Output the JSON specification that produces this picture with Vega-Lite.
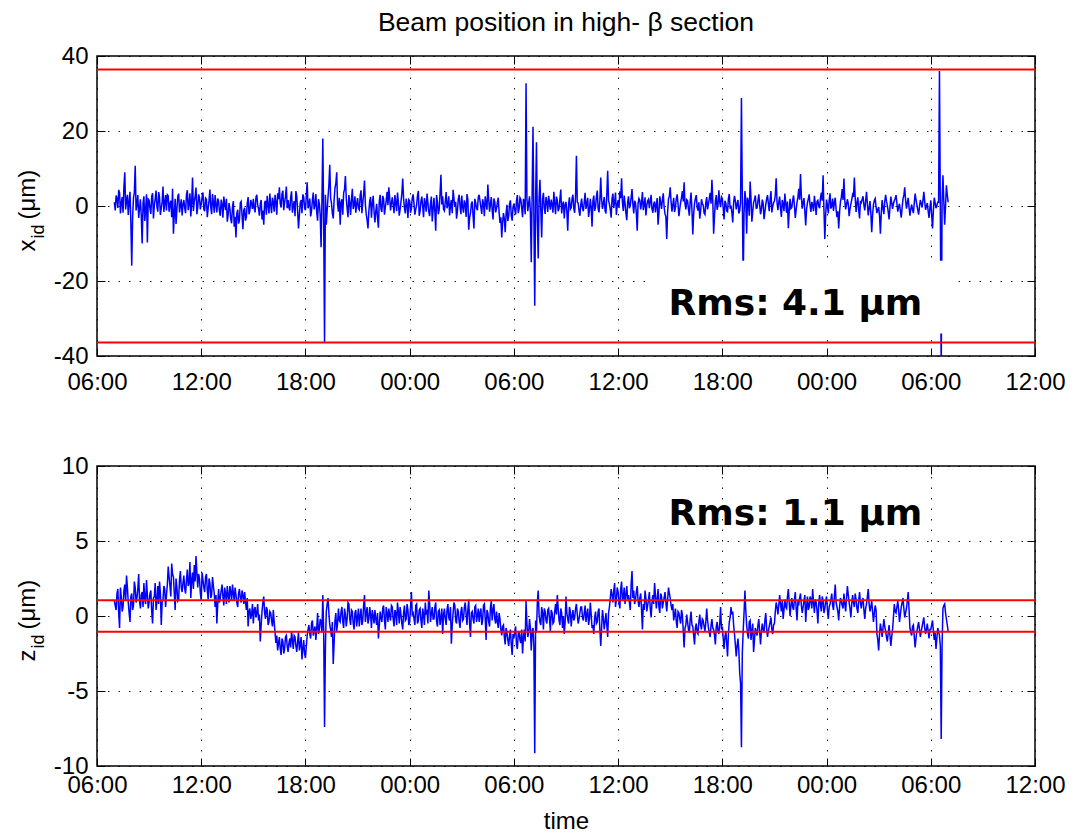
{
  "$schema": "https://vega.github.io/schema/vega-lite/v6.json",
  "background": "white",
  "padding": {"left": 14, "top": 8, "right": 5, "bottom": 0},
  "config": {
    "font": "Liberation Sans",
    "view": {"stroke": "black", "strokeWidth": 1.5},
    "axis": {
      "labelFont": "Liberation Sans", "labelFontSize": 24, "labelColor": "black",
      "titleFont": "Liberation Sans", "titleFontSize": 24, "titleFontWeight": "normal", "titleColor": "black",
      "domain": false, "tickColor": "black", "tickSize": -8, "tickWidth": 1,
      "gridColor": "black", "gridDash": [1.5, 9], "gridOpacity": 0.9, "gridWidth": 1,
      "labelOverlap": false, "labelFlush": false
    }
  },
  "datasets": {
    "beam": [
      {"h":1.0,"xid":1.0,"zid":1.0},{"h":1.1,"xid":2.8,"zid":0.4},{"h":1.2,"xid":-0.5,"zid":1.8},{"h":1.3,"xid":3.5,"zid":-0.8},{"h":1.4,"xid":0.8,"zid":1.2},{"h":1.5,"xid":-1.8,"zid":0.6},{"h":1.6,"xid":9.0,"zid":2.1},{"h":1.7,"xid":1.5,"zid":2.7},{"h":1.8,"xid":-2.4,"zid":0.9},{"h":1.9,"xid":3.8,"zid":-0.4},
      {"h":2.0,"xid":-15.9,"zid":1.5},{"h":2.1,"xid":2.1,"zid":0.7},{"h":2.2,"xid":10.7,"zid":1.9},{"h":2.3,"xid":0.4,"zid":1.2},{"h":2.4,"xid":-3.2,"zid":2.8},{"h":2.5,"xid":1.8,"zid":0.5},{"h":2.6,"xid":-10.0,"zid":1.6},{"h":2.7,"xid":2.6,"zid":2.2},{"h":2.8,"xid":-0.9,"zid":0.8},{"h":2.9,"xid":-9.7,"zid":1.4},
      {"h":3.0,"xid":1.5,"zid":0.9},{"h":3.1,"xid":-2.1,"zid":1.7},{"h":3.2,"xid":3.4,"zid":-0.5},{"h":3.3,"xid":0.2,"zid":1.3},{"h":3.4,"xid":4.1,"zid":0.4},{"h":3.5,"xid":-1.5,"zid":2.0},{"h":3.6,"xid":2.3,"zid":2.3},{"h":3.7,"xid":-0.6,"zid":-0.6},{"h":3.8,"xid":5.2,"zid":1.1},{"h":3.9,"xid":0.9,"zid":1.8},
      {"h":4.0,"xid":-1.2,"zid":1.4},{"h":4.1,"xid":2.7,"zid":3.3},{"h":4.2,"xid":0.5,"zid":2.0},{"h":4.3,"xid":-3.0,"zid":3.5},{"h":4.4,"xid":-7.4,"zid":2.6},{"h":4.5,"xid":1.9,"zid":0.4},{"h":4.6,"xid":-0.8,"zid":1.9},{"h":4.7,"xid":3.3,"zid":1.1},{"h":4.8,"xid":0.1,"zid":3.0},{"h":4.9,"xid":-2.5,"zid":1.6},
      {"h":5.0,"xid":1.6,"zid":2.7},{"h":5.1,"xid":-1.9,"zid":1.5},{"h":5.2,"xid":4.2,"zid":3.1},{"h":5.3,"xid":0.7,"zid":2.2},{"h":5.4,"xid":-2.8,"zid":1.2},{"h":5.5,"xid":7.6,"zid":2.9},{"h":5.6,"xid":1.2,"zid":3.4},{"h":5.7,"xid":4.9,"zid":4.0},{"h":5.8,"xid":-0.3,"zid":1.9},{"h":5.9,"xid":2.2,"zid":2.5},
      {"h":6.0,"xid":0.5,"zid":1.0},{"h":6.1,"xid":3.6,"zid":2.4},{"h":6.2,"xid":-1.4,"zid":1.6},{"h":6.3,"xid":1.8,"zid":2.8},{"h":6.4,"xid":-0.6,"zid":1.1},{"h":6.5,"xid":4.4,"zid":2.2},{"h":6.6,"xid":-2.2,"zid":1.4},{"h":6.7,"xid":0.9,"zid":2.0},{"h":6.8,"xid":2.9,"zid":0.6},{"h":6.9,"xid":-1.7,"zid":-0.5},
      {"h":7.0,"xid":1.3,"zid":1.8},{"h":7.1,"xid":-2.6,"zid":1.2},{"h":7.2,"xid":0.4,"zid":2.1},{"h":7.3,"xid":2.5,"zid":0.7},{"h":7.4,"xid":-1.1,"zid":1.5},{"h":7.5,"xid":-4.2,"zid":2.0},{"h":7.6,"xid":0.8,"zid":0.9},{"h":7.7,"xid":-3.5,"zid":1.6},{"h":7.8,"xid":-0.2,"zid":2.1},{"h":7.9,"xid":-5.5,"zid":1.0},
      {"h":8.0,"xid":-8.4,"zid":1.4},{"h":8.1,"xid":-1.0,"zid":0.6},{"h":8.2,"xid":-3.8,"zid":1.8},{"h":8.3,"xid":1.2,"zid":0.9},{"h":8.4,"xid":-6.2,"zid":1.4},{"h":8.5,"xid":-0.5,"zid":1.6},{"h":8.6,"xid":-2.9,"zid":0.4},{"h":8.7,"xid":2.4,"zid":-0.7},{"h":8.8,"xid":-1.3,"zid":0.5},{"h":8.9,"xid":0.6,"zid":0.1},
      {"h":9.0,"xid":1.9,"zid":-0.5},{"h":9.1,"xid":-1.7,"zid":0.6},{"h":9.2,"xid":3.0,"zid":0.2},{"h":9.3,"xid":-0.8,"zid":-0.3},{"h":9.4,"xid":0.5,"zid":-1.7},{"h":9.5,"xid":-3.6,"zid":0.3},{"h":9.6,"xid":-5.0,"zid":1.3},{"h":9.7,"xid":1.4,"zid":-0.2},{"h":9.8,"xid":2.7,"zid":0.4},{"h":9.9,"xid":-2.0,"zid":-0.4},
      {"h":10.0,"xid":0.3,"zid":0.2},{"h":10.1,"xid":2.2,"zid":-0.7},{"h":10.2,"xid":-1.5,"zid":-0.4},{"h":10.3,"xid":1.0,"zid":-1.8},{"h":10.4,"xid":3.4,"zid":-2.3},{"h":10.5,"xid":5.0,"zid":-1.4},{"h":10.6,"xid":-0.4,"zid":-2.6},{"h":10.7,"xid":4.1,"zid":-1.7},{"h":10.8,"xid":0.9,"zid":-2.2},{"h":10.9,"xid":5.2,"zid":-1.3},
      {"h":11.0,"xid":1.6,"zid":-2.4},{"h":11.1,"xid":-1.2,"zid":-1.5},{"h":11.2,"xid":3.9,"zid":-1.0},{"h":11.3,"xid":0.2,"zid":-2.2},{"h":11.4,"xid":-2.7,"zid":-1.4},{"h":11.5,"xid":2.6,"zid":-2.4},{"h":11.6,"xid":-6.0,"zid":-1.1},{"h":11.7,"xid":0.8,"zid":-1.9},{"h":11.8,"xid":-1.9,"zid":-2.9},{"h":11.9,"xid":2.4,"zid":-1.6},
      {"h":12.0,"xid":-1.1,"zid":-2.8},{"h":12.1,"xid":6.3,"zid":-1.3},{"h":12.2,"xid":0.4,"zid":-0.6},{"h":12.3,"xid":-2.8,"zid":-1.5},{"h":12.4,"xid":1.5,"zid":-0.3},{"h":12.5,"xid":-0.9,"zid":-1.0},{"h":12.6,"xid":3.2,"zid":-1.6},{"h":12.7,"xid":-3.9,"zid":0.2},{"h":12.8,"xid":0.6,"zid":-0.9},{"h":12.9,"xid":-11.0,"zid":-0.4},
      {"h":13.0,"xid":18.0,"zid":1.4},{"h":13.1,"xid":-36.5,"zid":-7.4},{"h":13.2,"xid":-5.0,"zid":0.3},{"h":13.3,"xid":2.4,"zid":1.2},{"h":13.4,"xid":11.0,"zid":-0.6},{"h":13.5,"xid":0.7,"zid":-1.4},{"h":13.6,"xid":-3.3,"zid":-3.2},{"h":13.7,"xid":4.8,"zid":-0.3},{"h":13.8,"xid":9.0,"zid":-1.0},{"h":13.9,"xid":-1.5,"zid":0.5},
      {"h":14.0,"xid":-5.0,"zid":-0.4},{"h":14.1,"xid":1.8,"zid":0.6},{"h":14.2,"xid":3.5,"zid":-0.8},{"h":14.3,"xid":8.0,"zid":0.1},{"h":14.4,"xid":-0.6,"zid":-0.2},{"h":14.5,"xid":2.9,"zid":0.8},{"h":14.6,"xid":-2.4,"zid":-0.6},{"h":14.7,"xid":4.6,"zid":0.3},{"h":14.8,"xid":0.3,"zid":-0.9},{"h":14.9,"xid":-1.8,"zid":0.4},
      {"h":15.0,"xid":2.1,"zid":-0.1},{"h":15.1,"xid":-1.0,"zid":-0.7},{"h":15.2,"xid":4.2,"zid":0.5},{"h":15.3,"xid":0.8,"zid":-0.3},{"h":15.4,"xid":6.8,"zid":1.4},{"h":15.5,"xid":-2.2,"zid":0.2},{"h":15.6,"xid":-6.0,"zid":-0.5},{"h":15.7,"xid":1.3,"zid":0.6},{"h":15.8,"xid":-3.1,"zid":-0.8},{"h":15.9,"xid":2.7,"zid":0.0},
      {"h":16.0,"xid":-4.4,"zid":0.4},{"h":16.1,"xid":0.6,"zid":-0.6},{"h":16.2,"xid":-5.8,"zid":-1.5},{"h":16.3,"xid":3.0,"zid":0.3},{"h":16.4,"xid":-1.6,"zid":-0.4},{"h":16.5,"xid":1.9,"zid":0.7},{"h":16.6,"xid":-0.3,"zid":-0.9},{"h":16.7,"xid":3.8,"zid":0.2},{"h":16.8,"xid":5.0,"zid":0.5},{"h":16.9,"xid":-1.2,"zid":-0.3},
      {"h":17.0,"xid":2.3,"zid":0.6},{"h":17.1,"xid":-1.9,"zid":-0.7},{"h":17.2,"xid":0.9,"zid":0.2},{"h":17.3,"xid":3.6,"zid":0.9},{"h":17.4,"xid":-2.6,"zid":-0.5},{"h":17.5,"xid":1.1,"zid":0.1},{"h":17.6,"xid":7.3,"zid":-0.9},{"h":17.7,"xid":-0.5,"zid":0.7},{"h":17.8,"xid":2.0,"zid":-0.2},{"h":17.9,"xid":-3.2,"zid":0.4},
      {"h":18.0,"xid":1.4,"zid":-0.4},{"h":18.1,"xid":-0.7,"zid":1.6},{"h":18.2,"xid":3.1,"zid":0.2},{"h":18.3,"xid":-2.3,"zid":-0.6},{"h":18.4,"xid":0.2,"zid":0.8},{"h":18.5,"xid":4.0,"zid":-0.3},{"h":18.6,"xid":-1.4,"zid":0.5},{"h":18.7,"xid":2.5,"zid":-0.8},{"h":18.8,"xid":-3.0,"zid":0.1},{"h":18.9,"xid":0.8,"zid":0.9},
      {"h":19.0,"xid":3.3,"zid":0.3},{"h":19.1,"xid":-1.6,"zid":1.7},{"h":19.2,"xid":0.7,"zid":-0.4},{"h":19.3,"xid":-4.1,"zid":0.6},{"h":19.4,"xid":2.2,"zid":-0.2},{"h":19.5,"xid":-6.6,"zid":0.9},{"h":19.6,"xid":1.0,"zid":-0.7},{"h":19.7,"xid":-0.9,"zid":0.4},{"h":19.8,"xid":8.3,"zid":-0.1},{"h":19.9,"xid":2.6,"zid":-1.2},
      {"h":20.0,"xid":-1.3,"zid":0.5},{"h":20.1,"xid":3.7,"zid":-0.6},{"h":20.2,"xid":0.4,"zid":0.8},{"h":20.3,"xid":-2.5,"zid":-0.3},{"h":20.4,"xid":1.6,"zid":-1.85},{"h":20.5,"xid":4.3,"zid":0.2},{"h":20.6,"xid":-0.2,"zid":0.7},{"h":20.7,"xid":-3.4,"zid":-0.5},{"h":20.8,"xid":1.9,"zid":0.3},{"h":20.9,"xid":0.0,"zid":-0.8},
      {"h":21.0,"xid":2.8,"zid":0.6},{"h":21.1,"xid":-1.8,"zid":-0.2},{"h":21.2,"xid":0.6,"zid":0.9},{"h":21.3,"xid":3.2,"zid":-0.6},{"h":21.4,"xid":-6.3,"zid":1.1},{"h":21.5,"xid":-2.0,"zid":-1.4},{"h":21.6,"xid":1.2,"zid":0.3},{"h":21.7,"xid":-6.0,"zid":-0.5},{"h":21.8,"xid":0.9,"zid":0.7},{"h":21.9,"xid":-1.1,"zid":0.0},
      {"h":22.0,"xid":3.0,"zid":-0.4},{"h":22.1,"xid":-0.4,"zid":0.5},{"h":22.2,"xid":1.8,"zid":-0.3},{"h":22.3,"xid":-2.7,"zid":0.8},{"h":22.4,"xid":0.5,"zid":-1.6},{"h":22.5,"xid":5.7,"zid":0.2},{"h":22.6,"xid":-1.5,"zid":-0.7},{"h":22.7,"xid":2.4,"zid":1.0},{"h":22.8,"xid":-3.6,"zid":0.4},{"h":22.9,"xid":1.1,"zid":-0.2},
      {"h":23.0,"xid":-0.6,"zid":0.3},{"h":23.1,"xid":2.2,"zid":-0.8},{"h":23.2,"xid":-4.5,"zid":-0.2},{"h":23.3,"xid":-8.4,"zid":-1.3},{"h":23.4,"xid":-1.9,"zid":-0.6},{"h":23.5,"xid":-7.0,"zid":-1.9},{"h":23.6,"xid":0.3,"zid":-1.1},{"h":23.7,"xid":-2.8,"zid":-2.0},{"h":23.8,"xid":1.5,"zid":-0.9},{"h":23.9,"xid":-3.9,"zid":-2.6},
      {"h":24.0,"xid":0.6,"zid":-1.5},{"h":24.1,"xid":-2.3,"zid":-0.7},{"h":24.2,"xid":2.9,"zid":-2.2},{"h":24.3,"xid":-0.8,"zid":-1.0},{"h":24.4,"xid":1.7,"zid":-1.8},{"h":24.5,"xid":-3.0,"zid":-2.5},{"h":24.6,"xid":0.9,"zid":-0.9},{"h":24.7,"xid":32.7,"zid":1.0},{"h":24.8,"xid":-1.4,"zid":-1.4},{"h":24.9,"xid":2.6,"zid":-0.2},
      {"h":25.0,"xid":-15.0,"zid":-2.3},{"h":25.1,"xid":21.1,"zid":-0.8},{"h":25.2,"xid":-26.6,"zid":-9.15},{"h":25.3,"xid":17.0,"zid":-1.1},{"h":25.4,"xid":-14.0,"zid":1.7},{"h":25.5,"xid":7.0,"zid":-0.4},{"h":25.6,"xid":-8.4,"zid":0.6},{"h":25.7,"xid":3.5,"zid":-0.9},{"h":25.8,"xid":-2.1,"zid":0.3},{"h":25.9,"xid":1.2,"zid":-0.5},
      {"h":26.0,"xid":2.7,"zid":0.5},{"h":26.1,"xid":-1.0,"zid":-1.0},{"h":26.2,"xid":0.4,"zid":0.2},{"h":26.3,"xid":3.8,"zid":-0.4},{"h":26.4,"xid":-2.2,"zid":0.8},{"h":26.5,"xid":1.5,"zid":1.4},{"h":26.6,"xid":-0.7,"zid":-0.3},{"h":26.7,"xid":4.4,"zid":0.5},{"h":26.8,"xid":0.2,"zid":-0.8},{"h":26.9,"xid":-3.3,"zid":-1.2},
      {"h":27.0,"xid":1.1,"zid":1.3},{"h":27.1,"xid":-6.6,"zid":-0.2},{"h":27.2,"xid":2.3,"zid":0.6},{"h":27.3,"xid":-0.5,"zid":-0.7},{"h":27.4,"xid":3.0,"zid":0.4},{"h":27.5,"xid":-1.8,"zid":-0.1},{"h":27.6,"xid":13.4,"zid":0.8},{"h":27.7,"xid":0.8,"zid":-0.5},{"h":27.8,"xid":-2.6,"zid":0.2},{"h":27.9,"xid":2.0,"zid":0.6},
      {"h":28.0,"xid":-1.4,"zid":-0.3},{"h":28.1,"xid":3.5,"zid":0.7},{"h":28.2,"xid":0.6,"zid":0.1},{"h":28.3,"xid":-2.9,"zid":-0.6},{"h":28.4,"xid":1.9,"zid":0.9},{"h":28.5,"xid":-5.5,"zid":-0.8},{"h":28.6,"xid":2.8,"zid":-1.2},{"h":28.7,"xid":-0.3,"zid":0.3},{"h":28.8,"xid":4.1,"zid":-0.4},{"h":28.9,"xid":-1.7,"zid":0.5},
      {"h":29.0,"xid":7.6,"zid":-2.0},{"h":29.1,"xid":-0.8,"zid":0.4},{"h":29.2,"xid":2.4,"zid":-0.9},{"h":29.3,"xid":-2.0,"zid":0.2},{"h":29.4,"xid":9.4,"zid":-1.4},{"h":29.5,"xid":0.5,"zid":0.6},{"h":29.6,"xid":-3.1,"zid":1.8},{"h":29.7,"xid":3.3,"zid":0.9},{"h":29.8,"xid":1.0,"zid":2.2},{"h":29.9,"xid":-2.4,"zid":1.1},
      {"h":30.0,"xid":1.6,"zid":1.6},{"h":30.1,"xid":3.9,"zid":0.5},{"h":30.2,"xid":7.4,"zid":2.3},{"h":30.3,"xid":-1.3,"zid":1.2},{"h":30.4,"xid":0.7,"zid":0.8},{"h":30.5,"xid":-3.8,"zid":2.0},{"h":30.6,"xid":2.6,"zid":1.4},{"h":30.7,"xid":0.1,"zid":0.4},{"h":30.8,"xid":4.5,"zid":3.0},{"h":30.9,"xid":-2.0,"zid":1.7},
      {"h":31.0,"xid":0.9,"zid":1.1},{"h":31.1,"xid":-6.6,"zid":2.0},{"h":31.2,"xid":2.0,"zid":0.6},{"h":31.3,"xid":-0.9,"zid":1.5},{"h":31.4,"xid":3.7,"zid":-0.9},{"h":31.5,"xid":0.3,"zid":0.4},{"h":31.6,"xid":-2.5,"zid":1.2},{"h":31.7,"xid":1.4,"zid":0.7},{"h":31.8,"xid":-0.6,"zid":1.6},{"h":31.9,"xid":3.0,"zid":-0.1},
      {"h":32.0,"xid":-1.8,"zid":1.4},{"h":32.1,"xid":1.2,"zid":2.2},{"h":32.2,"xid":0.4,"zid":0.5},{"h":32.3,"xid":-5.0,"zid":1.8},{"h":32.4,"xid":2.6,"zid":0.2},{"h":32.5,"xid":-0.8,"zid":1.3},{"h":32.6,"xid":3.4,"zid":0.9},{"h":32.7,"xid":-2.1,"zid":1.6},{"h":32.8,"xid":-8.8,"zid":0.3},{"h":32.9,"xid":1.9,"zid":1.9},
      {"h":33.0,"xid":5.0,"zid":1.2},{"h":33.1,"xid":-1.5,"zid":0.4},{"h":33.2,"xid":2.2,"zid":-0.3},{"h":33.3,"xid":-0.4,"zid":0.5},{"h":33.4,"xid":3.1,"zid":-0.8},{"h":33.5,"xid":-2.7,"zid":0.2},{"h":33.6,"xid":1.0,"zid":-0.5},{"h":33.7,"xid":4.0,"zid":0.1},{"h":33.8,"xid":6.3,"zid":-2.1},{"h":33.9,"xid":-0.9,"zid":-0.6},
      {"h":34.0,"xid":1.4,"zid":-0.4},{"h":34.1,"xid":-2.6,"zid":-1.1},{"h":34.2,"xid":3.6,"zid":0.3},{"h":34.3,"xid":-7.6,"zid":-0.7},{"h":34.4,"xid":0.7,"zid":-1.9},{"h":34.5,"xid":2.9,"zid":-0.5},{"h":34.6,"xid":-1.2,"zid":-1.2},{"h":34.7,"xid":-3.4,"zid":0.1},{"h":34.8,"xid":1.8,"zid":-0.9},{"h":34.9,"xid":0.2,"zid":-0.3},
      {"h":35.0,"xid":-2.3,"zid":-1.0},{"h":35.1,"xid":2.4,"zid":0.5},{"h":35.2,"xid":0.5,"zid":-0.8},{"h":35.3,"xid":3.5,"zid":-1.4},{"h":35.4,"xid":7.0,"zid":-0.2},{"h":35.5,"xid":-7.4,"zid":-0.9},{"h":35.6,"xid":1.3,"zid":-1.9},{"h":35.7,"xid":-1.0,"zid":-0.4},{"h":35.8,"xid":4.2,"zid":-1.2},{"h":35.9,"xid":-0.3,"zid":0.6},
      {"h":36.0,"xid":2.0,"zid":-0.7},{"h":36.1,"xid":-3.6,"zid":-2.2},{"h":36.2,"xid":0.8,"zid":-1.0},{"h":36.3,"xid":-1.5,"zid":-2.7},{"h":36.4,"xid":3.2,"zid":-0.4},{"h":36.5,"xid":0.1,"zid":0.6},{"h":36.6,"xid":-4.4,"zid":0.3},{"h":36.7,"xid":2.7,"zid":-1.2},{"h":36.8,"xid":-0.9,"zid":-2.7},{"h":36.9,"xid":1.6,"zid":-1.5},
      {"h":37.0,"xid":-1.3,"zid":-3.8},{"h":37.1,"xid":28.8,"zid":-8.75},{"h":37.2,"xid":-20.0,"zid":-1.0},{"h":37.3,"xid":4.0,"zid":1.7},{"h":37.4,"xid":-7.4,"zid":-0.6},{"h":37.5,"xid":1.2,"zid":-1.5},{"h":37.6,"xid":6.5,"zid":-0.3},{"h":37.7,"xid":-4.2,"zid":-1.0},{"h":37.8,"xid":0.9,"zid":-2.4},{"h":37.9,"xid":2.8,"zid":-0.8},
      {"h":38.0,"xid":-0.5,"zid":-1.3},{"h":38.1,"xid":3.1,"zid":-0.2},{"h":38.2,"xid":-2.2,"zid":-1.9},{"h":38.3,"xid":1.7,"zid":-0.5},{"h":38.4,"xid":-3.5,"zid":-1.1},{"h":38.5,"xid":0.4,"zid":0.2},{"h":38.6,"xid":2.9,"zid":-1.4},{"h":38.7,"xid":-1.4,"zid":-0.7},{"h":38.8,"xid":4.0,"zid":-0.1},{"h":38.9,"xid":-0.2,"zid":-1.2},
      {"h":39.0,"xid":1.3,"zid":-0.5},{"h":39.1,"xid":7.4,"zid":0.9},{"h":39.2,"xid":-1.1,"zid":0.1},{"h":39.3,"xid":2.5,"zid":1.4},{"h":39.4,"xid":-2.9,"zid":0.3},{"h":39.5,"xid":0.6,"zid":-0.2},{"h":39.6,"xid":3.3,"zid":1.1},{"h":39.7,"xid":-1.8,"zid":0.5},{"h":39.8,"xid":-5.9,"zid":1.8},{"h":39.9,"xid":1.9,"zid":0.0},
      {"h":40.0,"xid":-0.4,"zid":1.2},{"h":40.1,"xid":2.8,"zid":0.4},{"h":40.2,"xid":-3.2,"zid":1.6},{"h":40.3,"xid":1.0,"zid":-0.3},{"h":40.4,"xid":4.6,"zid":0.8},{"h":40.5,"xid":8.5,"zid":1.5},{"h":40.6,"xid":-0.7,"zid":0.2},{"h":40.7,"xid":2.1,"zid":1.0},{"h":40.8,"xid":-5.2,"zid":-0.4},{"h":40.9,"xid":0.8,"zid":1.3},
      {"h":41.0,"xid":3.1,"zid":0.6},{"h":41.1,"xid":-1.6,"zid":1.1},{"h":41.2,"xid":0.2,"zid":1.8},{"h":41.3,"xid":2.7,"zid":0.2},{"h":41.4,"xid":-2.4,"zid":0.9},{"h":41.5,"xid":1.5,"zid":-0.5},{"h":41.6,"xid":-0.6,"zid":1.4},{"h":41.7,"xid":3.6,"zid":0.3},{"h":41.8,"xid":8.2,"zid":1.0},{"h":41.9,"xid":-8.8,"zid":0.5},
      {"h":42.0,"xid":1.7,"zid":1.3},{"h":42.1,"xid":-2.0,"zid":-0.2},{"h":42.2,"xid":3.4,"zid":0.8},{"h":42.3,"xid":0.0,"zid":1.5},{"h":42.4,"xid":-1.3,"zid":0.4},{"h":42.5,"xid":2.2,"zid":2.1},{"h":42.6,"xid":-3.0,"zid":0.6},{"h":42.7,"xid":-6.0,"zid":-0.3},{"h":42.8,"xid":1.1,"zid":1.2},{"h":42.9,"xid":4.5,"zid":0.7},
      {"h":43.0,"xid":7.3,"zid":1.5},{"h":43.1,"xid":-0.9,"zid":0.3},{"h":43.2,"xid":1.8,"zid":2.0},{"h":43.3,"xid":-2.7,"zid":0.9},{"h":43.4,"xid":0.5,"zid":-0.1},{"h":43.5,"xid":3.0,"zid":1.4},{"h":43.6,"xid":7.6,"zid":0.6},{"h":43.7,"xid":-1.6,"zid":1.1},{"h":43.8,"xid":2.3,"zid":0.2},{"h":43.9,"xid":-3.3,"zid":1.6},
      {"h":44.0,"xid":0.9,"zid":0.5},{"h":44.1,"xid":2.6,"zid":1.2},{"h":44.2,"xid":-1.2,"zid":-0.2},{"h":44.3,"xid":3.8,"zid":0.8},{"h":44.4,"xid":-2.5,"zid":1.8},{"h":44.5,"xid":1.3,"zid":0.3},{"h":44.6,"xid":-7.0,"zid":1.0},{"h":44.7,"xid":0.4,"zid":-0.4},{"h":44.8,"xid":2.0,"zid":0.7},{"h":44.9,"xid":-1.9,"zid":-1.2},
      {"h":45.0,"xid":-0.3,"zid":-2.3},{"h":45.1,"xid":-7.4,"zid":-0.5},{"h":45.2,"xid":1.6,"zid":-1.4},{"h":45.3,"xid":-2.2,"zid":-0.2},{"h":45.4,"xid":3.0,"zid":-1.0},{"h":45.5,"xid":0.1,"zid":-1.7},{"h":45.6,"xid":-3.6,"zid":-0.6},{"h":45.7,"xid":2.5,"zid":-2.0},{"h":45.8,"xid":-0.8,"zid":-0.9},{"h":45.9,"xid":1.4,"zid":0.8},
      {"h":46.0,"xid":2.9,"zid":0.2},{"h":46.1,"xid":-1.5,"zid":1.0},{"h":46.2,"xid":0.6,"zid":-0.4},{"h":46.3,"xid":-3.1,"zid":0.6},{"h":46.4,"xid":1.9,"zid":1.2},{"h":46.5,"xid":5.0,"zid":-0.1},{"h":46.6,"xid":-0.7,"zid":0.5},{"h":46.7,"xid":2.2,"zid":1.6},{"h":46.8,"xid":-2.6,"zid":-0.8},{"h":46.9,"xid":0.4,"zid":-1.3},
      {"h":47.0,"xid":-1.9,"zid":-0.6},{"h":47.1,"xid":3.3,"zid":-2.1},{"h":47.2,"xid":0.3,"zid":-1.0},{"h":47.3,"xid":-2.3,"zid":-0.4},{"h":47.4,"xid":1.6,"zid":-1.4},{"h":47.5,"xid":-0.4,"zid":-0.7},{"h":47.6,"xid":3.8,"zid":-0.1},{"h":47.7,"xid":-1.0,"zid":-1.2},{"h":47.8,"xid":0.8,"zid":-0.5},{"h":47.9,"xid":-3.2,"zid":-1.5},
      {"h":48.0,"xid":1.5,"zid":-0.9},{"h":48.1,"xid":-6.0,"zid":-0.3},{"h":48.2,"xid":2.2,"zid":-1.6},{"h":48.3,"xid":-0.6,"zid":-2.2},{"h":48.4,"xid":1.0,"zid":-0.8},{"h":48.5,"xid":36.0,"zid":-1.3},{"h":48.6,"xid":-45.0,"zid":-8.2},{"h":48.7,"xid":8.2,"zid":0.5},{"h":48.8,"xid":-5.0,"zid":0.8},{"h":48.9,"xid":5.5,"zid":-0.2},
      {"h":49.0,"xid":1.0,"zid":-1.0},
      {"h":1.05,"xid":-1.2,"zid":0.7},{"h":1.15,"xid":1.9,"zid":1.5},{"h":1.25,"xid":4.3,"zid":0.2},{"h":1.35,"xid":-2.0,"zid":1.9},{"h":1.45,"xid":2.4,"zid":0.3},{"h":1.55,"xid":5.1,"zid":1.7},{"h":1.65,"xid":-0.9,"zid":1.0},{"h":1.75,"xid":3.0,"zid":1.9},{"h":1.85,"xid":1.2,"zid":0.2},{"h":1.95,"xid":-4.5,"zid":1.3},
      {"h":2.05,"xid":-3.1,"zid":0.4},{"h":2.15,"xid":3.6,"zid":2.3},{"h":2.25,"xid":-1.2,"zid":0.9},{"h":2.35,"xid":2.9,"zid":1.8},{"h":2.45,"xid":-0.5,"zid":1.0},{"h":2.55,"xid":-2.8,"zid":1.4},{"h":2.65,"xid":0.7,"zid":0.6},{"h":2.75,"xid":-4.0,"zid":1.1},{"h":2.85,"xid":3.1,"zid":2.4},{"h":2.95,"xid":1.8,"zid":0.5},
      {"h":3.05,"xid":-0.7,"zid":1.5},{"h":3.15,"xid":2.6,"zid":0.3},{"h":3.25,"xid":-3.3,"zid":1.2},{"h":3.35,"xid":1.9,"zid":2.2},{"h":3.45,"xid":-0.2,"zid":1.0},{"h":3.55,"xid":3.7,"zid":0.8},{"h":3.65,"xid":-2.4,"zid":1.5},{"h":3.75,"xid":1.1,"zid":0.9},{"h":3.85,"xid":-1.6,"zid":2.0},{"h":3.95,"xid":2.9,"zid":0.6},
      {"h":4.05,"xid":3.0,"zid":2.1},{"h":4.15,"xid":-1.5,"zid":2.6},{"h":4.25,"xid":1.4,"zid":1.3},{"h":4.35,"xid":4.6,"zid":2.8},{"h":4.45,"xid":-2.1,"zid":1.5},{"h":4.55,"xid":-4.8,"zid":2.5},{"h":4.65,"xid":2.5,"zid":1.0},{"h":4.75,"xid":-1.7,"zid":2.4},{"h":4.85,"xid":1.8,"zid":1.9},{"h":4.95,"xid":0.4,"zid":2.2},
      {"h":5.05,"xid":-0.6,"zid":1.8},{"h":5.15,"xid":2.9,"zid":2.4},{"h":5.25,"xid":-1.1,"zid":2.0},{"h":5.35,"xid":3.4,"zid":3.6},{"h":5.45,"xid":0.9,"zid":2.4},{"h":5.55,"xid":-1.3,"zid":1.8},{"h":5.65,"xid":2.6,"zid":2.3},{"h":5.75,"xid":-2.2,"zid":2.9},{"h":5.85,"xid":3.1,"zid":2.8},{"h":5.95,"xid":-0.9,"zid":1.5},
      {"h":6.05,"xid":2.4,"zid":2.9},{"h":6.15,"xid":-0.9,"zid":1.9},{"h":6.25,"xid":2.1,"zid":2.6},{"h":6.35,"xid":-3.0,"zid":1.7},{"h":6.45,"xid":1.5,"zid":2.5},{"h":6.55,"xid":-0.4,"zid":1.2},{"h":6.65,"xid":3.2,"zid":2.6},{"h":6.75,"xid":-1.8,"zid":1.5},{"h":6.85,"xid":0.3,"zid":1.4},{"h":6.95,"xid":2.0,"zid":0.8},
      {"h":7.05,"xid":-1.4,"zid":0.9},{"h":7.15,"xid":1.7,"zid":1.7},{"h":7.25,"xid":-3.1,"zid":1.3},{"h":7.35,"xid":0.6,"zid":1.9},{"h":7.45,"xid":1.9,"zid":0.8},{"h":7.55,"xid":-2.4,"zid":1.4},{"h":7.65,"xid":-0.7,"zid":2.0},{"h":7.75,"xid":-4.6,"zid":1.0},{"h":7.85,"xid":1.3,"zid":1.5},{"h":7.95,"xid":-2.9,"zid":1.9},
      {"h":8.05,"xid":-2.0,"zid":0.9},{"h":8.15,"xid":-4.7,"zid":1.5},{"h":8.25,"xid":0.8,"zid":1.2},{"h":8.35,"xid":-2.4,"zid":1.7},{"h":8.45,"xid":-1.1,"zid":0.8},{"h":8.55,"xid":-3.9,"zid":0.9},{"h":8.65,"xid":0.7,"zid":1.2},{"h":8.75,"xid":-2.2,"zid":0.3},{"h":8.85,"xid":1.6,"zid":-0.2},{"h":8.95,"xid":-0.8,"zid":0.8},
      {"h":9.05,"xid":-0.5,"zid":0.4},{"h":9.15,"xid":2.3,"zid":-0.1},{"h":9.25,"xid":0.3,"zid":0.8},{"h":9.35,"xid":-2.6,"zid":0.1},{"h":9.45,"xid":1.6,"zid":-0.6},{"h":9.55,"xid":-1.2,"zid":0.9},{"h":9.65,"xid":0.9,"zid":0.2},{"h":9.75,"xid":-2.3,"zid":0.6},{"h":9.85,"xid":0.2,"zid":-0.6},{"h":9.95,"xid":3.3,"zid":0.3},
      {"h":10.05,"xid":-1.9,"zid":-0.3},{"h":10.15,"xid":1.1,"zid":0.4},{"h":10.25,"xid":3.0,"zid":-1.1},{"h":10.35,"xid":-2.3,"zid":-1.3},{"h":10.45,"xid":1.8,"zid":-1.8},{"h":10.55,"xid":0.6,"zid":-2.2},{"h":10.65,"xid":3.2,"zid":-1.5},{"h":10.75,"xid":-1.1,"zid":-2.5},{"h":10.85,"xid":2.5,"zid":-1.4},{"h":10.95,"xid":-0.6,"zid":-2.0},
      {"h":11.05,"xid":-0.4,"zid":-1.8},{"h":11.15,"xid":2.4,"zid":-2.1},{"h":11.25,"xid":-1.8,"zid":-1.6},{"h":11.35,"xid":1.3,"zid":-1.3},{"h":11.45,"xid":4.0,"zid":-2.0},{"h":11.55,"xid":-1.3,"zid":-1.7},{"h":11.65,"xid":-2.5,"zid":-2.3},{"h":11.75,"xid":1.6,"zid":-1.4},{"h":11.85,"xid":3.1,"zid":-2.2},{"h":11.95,"xid":-0.5,"zid":-2.5},
      {"h":12.05,"xid":2.7,"zid":-2.0},{"h":12.15,"xid":-0.6,"zid":-0.9},{"h":12.25,"xid":2.0,"zid":-1.2},{"h":12.35,"xid":-1.3,"zid":-0.5},{"h":12.45,"xid":3.6,"zid":-1.3},{"h":12.55,"xid":0.2,"zid":-0.7},{"h":12.65,"xid":-1.7,"zid":-0.8},{"h":12.75,"xid":1.8,"zid":-1.2},{"h":12.85,"xid":-2.4,"zid":-0.2},{"h":12.95,"xid":1.4,"zid":-1.1},
      {"h":13.05,"xid":-4.0,"zid":-1.0},{"h":13.15,"xid":3.0,"zid":-2.0},{"h":13.25,"xid":-1.2,"zid":0.8},{"h":13.35,"xid":5.5,"zid":0.2},{"h":13.45,"xid":2.1,"zid":-0.9},{"h":13.55,"xid":-2.0,"zid":-0.4},{"h":13.65,"xid":1.6,"zid":-1.8},{"h":13.75,"xid":6.0,"zid":0.2},{"h":13.85,"xid":0.4,"zid":-0.5},{"h":13.95,"xid":2.2,"zid":-0.3},
      {"h":14.05,"xid":1.0,"zid":0.3},{"h":14.15,"xid":-2.3,"zid":-0.4},{"h":14.25,"xid":4.4,"zid":0.5},{"h":14.35,"xid":2.0,"zid":-0.7},{"h":14.45,"xid":-3.0,"zid":0.9},{"h":14.55,"xid":0.9,"zid":-0.2},{"h":14.65,"xid":1.8,"zid":0.4},{"h":14.75,"xid":-0.8,"zid":-0.5},{"h":14.85,"xid":2.6,"zid":0.2},{"h":14.95,"xid":0.5,"zid":-0.7},
      {"h":15.05,"xid":-0.6,"zid":0.5},{"h":15.15,"xid":2.8,"zid":0.0},{"h":15.25,"xid":-1.9,"zid":-0.6},{"h":15.35,"xid":3.2,"zid":0.7},{"h":15.45,"xid":0.4,"zid":-0.4},{"h":15.55,"xid":-3.7,"zid":0.6},{"h":15.65,"xid":-1.5,"zid":-0.2},{"h":15.75,"xid":2.4,"zid":0.1},{"h":15.85,"xid":0.6,"zid":0.4},{"h":15.95,"xid":-1.4,"zid":-0.5},
      {"h":16.05,"xid":-1.5,"zid":-0.2},{"h":16.15,"xid":-3.2,"zid":0.2},{"h":16.25,"xid":1.1,"zid":-0.7},{"h":16.35,"xid":-0.8,"zid":-0.1},{"h":16.45,"xid":2.7,"zid":0.5},{"h":16.55,"xid":-2.3,"zid":-0.3},{"h":16.65,"xid":1.5,"zid":0.6},{"h":16.75,"xid":0.2,"zid":-0.4},{"h":16.85,"xid":2.1,"zid":0.0},{"h":16.95,"xid":0.8,"zid":0.7},
      {"h":17.05,"xid":0.3,"zid":-0.2},{"h":17.15,"xid":2.9,"zid":0.4},{"h":17.25,"xid":-1.4,"zid":-0.6},{"h":17.35,"xid":1.0,"zid":0.3},{"h":17.45,"xid":-0.9,"zid":0.6},{"h":17.55,"xid":3.4,"zid":-0.5},{"h":17.65,"xid":1.9,"zid":0.2},{"h":17.75,"xid":-2.0,"zid":-0.3},{"h":17.85,"xid":0.5,"zid":0.8},{"h":17.95,"xid":1.7,"zid":-0.6},
      {"h":18.05,"xid":-1.8,"zid":0.6},{"h":18.15,"xid":2.2,"zid":0.1},{"h":18.25,"xid":0.5,"zid":-0.2},{"h":18.35,"xid":-0.9,"zid":0.7},{"h":18.45,"xid":2.8,"zid":-0.5},{"h":18.55,"xid":-2.6,"zid":0.4},{"h":18.65,"xid":1.3,"zid":-0.3},{"h":18.75,"xid":-0.2,"zid":0.5},{"h":18.85,"xid":2.1,"zid":-0.6},{"h":18.95,"xid":-1.5,"zid":0.2},
      {"h":19.05,"xid":0.9,"zid":-0.5},{"h":19.15,"xid":-2.7,"zid":0.8},{"h":19.25,"xid":2.5,"zid":0.2},{"h":19.35,"xid":-0.8,"zid":-0.2},{"h":19.45,"xid":-1.5,"zid":0.6},{"h":19.55,"xid":2.9,"zid":-0.4},{"h":19.65,"xid":-2.2,"zid":0.3},{"h":19.75,"xid":3.4,"zid":-0.6},{"h":19.85,"xid":0.4,"zid":0.5},{"h":19.95,"xid":-0.9,"zid":0.1},
      {"h":20.05,"xid":1.2,"zid":-0.2},{"h":20.15,"xid":-0.6,"zid":0.4},{"h":20.25,"xid":2.6,"zid":-0.1},{"h":20.35,"xid":0.3,"zid":0.6},{"h":20.45,"xid":-1.9,"zid":-0.6},{"h":20.55,"xid":2.0,"zid":0.9},{"h":20.65,"xid":1.1,"zid":-0.3},{"h":20.75,"xid":-1.3,"zid":0.5},{"h":20.85,"xid":3.0,"zid":-0.4},{"h":20.95,"xid":-2.2,"zid":0.3},
      {"h":21.05,"xid":-0.3,"zid":-0.3},{"h":21.15,"xid":1.5,"zid":0.6},{"h":21.25,"xid":-2.9,"zid":0.1},{"h":21.35,"xid":1.7,"zid":0.4},{"h":21.45,"xid":-3.1,"zid":-0.5},{"h":21.55,"xid":0.5,"zid":0.2},{"h":21.65,"xid":-2.6,"zid":-0.2},{"h":21.75,"xid":1.9,"zid":0.6},{"h":21.85,"xid":-0.6,"zid":-0.4},{"h":21.95,"xid":2.3,"zid":0.5},
      {"h":22.05,"xid":1.3,"zid":0.2},{"h":22.15,"xid":-2.1,"zid":-0.6},{"h":22.25,"xid":0.7,"zid":0.7},{"h":22.35,"xid":2.6,"zid":-0.2},{"h":22.45,"xid":-1.0,"zid":0.4},{"h":22.55,"xid":1.8,"zid":-0.4},{"h":22.65,"xid":0.5,"zid":0.6},{"h":22.75,"xid":-1.1,"zid":-0.3},{"h":22.85,"xid":2.0,"zid":0.8},{"h":22.95,"xid":-1.7,"zid":-0.5},
      {"h":23.05,"xid":1.0,"zid":-0.4},{"h":23.15,"xid":-1.7,"zid":0.2},{"h":23.25,"xid":-3.0,"zid":-0.9},{"h":23.35,"xid":-4.5,"zid":-0.7},{"h":23.45,"xid":-3.4,"zid":-1.4},{"h":23.55,"xid":-2.1,"zid":-0.8},{"h":23.65,"xid":-4.0,"zid":-1.6},{"h":23.75,"xid":0.6,"zid":-1.3},{"h":23.85,"xid":-2.6,"zid":-1.9},{"h":23.95,"xid":-0.3,"zid":-1.2},
      {"h":24.05,"xid":-1.1,"zid":-1.0},{"h":24.15,"xid":1.4,"zid":-1.9},{"h":24.25,"xid":-1.9,"zid":-1.2},{"h":24.35,"xid":2.2,"zid":-1.6},{"h":24.45,"xid":-0.6,"zid":-0.9},{"h":24.55,"xid":1.9,"zid":-1.4},{"h":24.65,"xid":-2.2,"zid":-1.7},{"h":24.75,"xid":2.0,"zid":-0.5},{"h":24.85,"xid":0.8,"zid":-1.1},{"h":24.95,"xid":-1.8,"zid":-0.8},
      {"h":25.05,"xid":3.0,"zid":-1.0},{"h":25.15,"xid":-2.0,"zid":-2.0},{"h":25.25,"xid":1.0,"zid":-0.3},{"h":25.35,"xid":-4.0,"zid":0.9},{"h":25.45,"xid":2.0,"zid":0.1},{"h":25.55,"xid":-1.0,"zid":-0.6},{"h":25.65,"xid":1.8,"zid":0.2},{"h":25.75,"xid":-0.5,"zid":0.5},{"h":25.85,"xid":2.4,"zid":-0.3},{"h":25.95,"xid":-1.6,"zid":0.4},
      {"h":26.05,"xid":0.9,"zid":-0.2},{"h":26.15,"xid":1.7,"zid":0.4},{"h":26.25,"xid":-1.8,"zid":-0.5},{"h":26.35,"xid":0.6,"zid":0.3},{"h":26.45,"xid":2.5,"zid":0.1},{"h":26.55,"xid":-1.4,"zid":0.5},{"h":26.65,"xid":1.9,"zid":-0.6},{"h":26.75,"xid":-2.0,"zid":0.2},{"h":26.85,"xid":1.2,"zid":0.0},{"h":26.95,"xid":0.3,"zid":-0.4},
      {"h":27.05,"xid":-1.5,"zid":0.2},{"h":27.15,"xid":0.5,"zid":-0.5},{"h":27.25,"xid":-0.9,"zid":0.3},{"h":27.35,"xid":2.0,"zid":0.0},{"h":27.45,"xid":-0.7,"zid":-0.3},{"h":27.55,"xid":2.6,"zid":0.5},{"h":27.65,"xid":1.0,"zid":0.1},{"h":27.75,"xid":-1.3,"zid":-0.2},{"h":27.85,"xid":0.4,"zid":0.6},{"h":27.95,"xid":-0.6,"zid":-0.1},
      {"h":28.05,"xid":1.0,"zid":0.2},{"h":28.15,"xid":-0.8,"zid":-0.4},{"h":28.25,"xid":2.2,"zid":0.5},{"h":28.35,"xid":-1.1,"zid":-0.2},{"h":28.45,"xid":-0.5,"zid":0.1},{"h":28.55,"xid":1.4,"zid":-0.6},{"h":28.65,"xid":-1.3,"zid":-0.1},{"h":28.75,"xid":2.4,"zid":-0.5},{"h":28.85,"xid":-0.7,"zid":0.3},{"h":28.95,"xid":1.5,"zid":-0.9},
      {"h":29.05,"xid":1.8,"zid":-0.8},{"h":29.15,"xid":0.6,"zid":-0.1},{"h":29.25,"xid":-1.2,"zid":-0.4},{"h":29.35,"xid":3.1,"zid":-0.6},{"h":29.45,"xid":1.4,"zid":0.2},{"h":29.55,"xid":-1.0,"zid":1.2},{"h":29.65,"xid":2.0,"zid":1.4},{"h":29.75,"xid":-0.5,"zid":1.7},{"h":29.85,"xid":3.6,"zid":0.6},{"h":29.95,"xid":0.2,"zid":1.9},
      {"h":30.05,"xid":-0.5,"zid":0.9},{"h":30.15,"xid":2.1,"zid":1.8},{"h":30.25,"xid":0.9,"zid":1.0},{"h":30.35,"xid":2.8,"zid":1.9},{"h":30.45,"xid":-2.0,"zid":1.4},{"h":30.55,"xid":1.1,"zid":1.1},{"h":30.65,"xid":-0.6,"zid":0.9},{"h":30.75,"xid":2.2,"zid":2.1},{"h":30.85,"xid":0.5,"zid":1.2},{"h":30.95,"xid":1.4,"zid":0.8},
      {"h":31.05,"xid":-1.9,"zid":1.6},{"h":31.15,"xid":0.7,"zid":1.0},{"h":31.25,"xid":1.5,"zid":1.2},{"h":31.35,"xid":0.9,"zid":0.4},{"h":31.45,"xid":-1.1,"zid":0.8},{"h":31.55,"xid":2.3,"zid":1.7},{"h":31.65,"xid":0.1,"zid":0.3},{"h":31.75,"xid":1.8,"zid":1.1},{"h":31.85,"xid":1.2,"zid":0.5},{"h":31.95,"xid":-0.8,"zid":0.9},
      {"h":32.05,"xid":0.6,"zid":0.8},{"h":32.15,"xid":-1.7,"zid":1.4},{"h":32.25,"xid":2.1,"zid":1.1},{"h":32.35,"xid":-1.9,"zid":0.6},{"h":32.45,"xid":0.8,"zid":1.5},{"h":32.55,"xid":1.7,"zid":0.5},{"h":32.65,"xid":-0.4,"zid":1.2},{"h":32.75,"xid":-2.9,"zid":0.9},{"h":32.85,"xid":-1.6,"zid":1.1},{"h":32.95,"xid":2.6,"zid":1.5},
      {"h":33.05,"xid":1.1,"zid":0.7},{"h":33.15,"xid":0.3,"zid":0.8},{"h":33.25,"xid":-1.6,"zid":0.1},{"h":33.35,"xid":2.0,"zid":-0.4},{"h":33.45,"xid":0.4,"zid":0.3},{"h":33.55,"xid":-0.8,"zid":-0.2},{"h":33.65,"xid":2.3,"zid":0.4},{"h":33.75,"xid":1.2,"zid":-1.0},{"h":33.85,"xid":0.6,"zid":-0.8},{"h":33.95,"xid":1.7,"zid":0.1},
      {"h":34.05,"xid":-0.8,"zid":-0.9},{"h":34.15,"xid":1.3,"zid":-0.2},{"h":34.25,"xid":-1.0,"zid":-0.6},{"h":34.35,"xid":-2.1,"zid":-1.3},{"h":34.45,"xid":2.0,"zid":-0.8},{"h":34.55,"xid":-0.3,"zid":-1.1},{"h":34.65,"xid":1.0,"zid":-0.4},{"h":34.75,"xid":-1.4,"zid":-0.6},{"h":34.85,"xid":0.6,"zid":-0.2},{"h":34.95,"xid":-1.9,"zid":-0.7},
      {"h":35.05,"xid":0.9,"zid":-0.4},{"h":35.15,"xid":-0.9,"zid":-0.3},{"h":35.25,"xid":2.0,"zid":-1.1},{"h":35.35,"xid":0.6,"zid":-0.6},{"h":35.45,"xid":1.5,"zid":-0.8},{"h":35.55,"xid":-2.5,"zid":-1.3},{"h":35.65,"xid":2.9,"zid":-0.7},{"h":35.75,"xid":0.3,"zid":-1.0},{"h":35.85,"xid":1.0,"zid":-0.5},{"h":35.95,"xid":2.4,"zid":-0.9},
      {"h":36.05,"xid":-0.6,"zid":-1.5},{"h":36.15,"xid":1.4,"zid":-1.4},{"h":36.25,"xid":-1.3,"zid":-1.8},{"h":36.35,"xid":2.0,"zid":-1.2},{"h":36.45,"xid":-0.7,"zid":-0.1},{"h":36.55,"xid":-1.8,"zid":0.1},{"h":36.65,"xid":0.9,"zid":-0.6},{"h":36.75,"xid":1.4,"zid":-1.9},{"h":36.85,"xid":0.5,"zid":-2.0},{"h":36.95,"xid":-2.0,"zid":-2.3},
      {"h":37.05,"xid":1.0,"zid":-4.5},{"h":37.15,"xid":3.0,"zid":-2.5},{"h":37.25,"xid":-2.0,"zid":0.2},{"h":37.35,"xid":1.6,"zid":0.4},{"h":37.45,"xid":2.2,"zid":-1.2},{"h":37.55,"xid":-2.6,"zid":-0.4},{"h":37.65,"xid":2.0,"zid":-1.6},{"h":37.75,"xid":-1.5,"zid":-0.5},{"h":37.85,"xid":1.7,"zid":-1.6},{"h":37.95,"xid":-0.6,"zid":-1.1},
      {"h":38.05,"xid":1.4,"zid":-0.6},{"h":38.15,"xid":0.2,"zid":-1.1},{"h":38.25,"xid":-0.9,"zid":-1.0},{"h":38.35,"xid":0.8,"zid":-0.9},{"h":38.45,"xid":-1.6,"zid":-0.3},{"h":38.55,"xid":1.9,"zid":-0.8},{"h":38.65,"xid":0.6,"zid":-1.0},{"h":38.75,"xid":1.8,"zid":-0.4},{"h":38.85,"xid":-1.7,"zid":-0.9},{"h":38.95,"xid":0.9,"zid":-0.6},
      {"h":39.05,"xid":3.0,"zid":0.3},{"h":39.15,"xid":0.9,"zid":0.6},{"h":39.25,"xid":1.1,"zid":0.7},{"h":39.35,"xid":-0.6,"zid":0.8},{"h":39.45,"xid":1.6,"zid":1.0},{"h":39.55,"xid":-1.4,"zid":0.4},{"h":39.65,"xid":0.7,"zid":0.6},{"h":39.75,"xid":1.2,"zid":1.3},{"h":39.85,"xid":-1.3,"zid":0.9},{"h":39.95,"xid":-0.7,"zid":0.7},
      {"h":40.05,"xid":1.5,"zid":0.6},{"h":40.15,"xid":0.2,"zid":1.1},{"h":40.25,"xid":-1.0,"zid":0.5},{"h":40.35,"xid":2.3,"zid":0.9},{"h":40.45,"xid":1.7,"zid":1.2},{"h":40.55,"xid":2.6,"zid":0.7},{"h":40.65,"xid":0.9,"zid":0.6},{"h":40.75,"xid":-1.4,"zid":1.4},{"h":40.85,"xid":-0.8,"zid":0.6},{"h":40.95,"xid":1.9,"zid":0.4},
      {"h":41.05,"xid":0.2,"zid":1.3},{"h":41.15,"xid":1.1,"zid":0.5},{"h":41.25,"xid":-1.4,"zid":0.9},{"h":41.35,"xid":0.6,"zid":1.1},{"h":41.45,"xid":1.2,"zid":0.4},{"h":41.55,"xid":0.0,"zid":0.8},{"h":41.65,"xid":2.1,"zid":0.7},{"h":41.75,"xid":1.4,"zid":1.3},{"h":41.85,"xid":-1.0,"zid":0.2},{"h":41.95,"xid":-2.2,"zid":1.0},
      {"h":42.05,"xid":0.1,"zid":0.4},{"h":42.15,"xid":1.5,"zid":0.6},{"h":42.25,"xid":-0.7,"zid":1.1},{"h":42.35,"xid":2.0,"zid":0.7},{"h":42.45,"xid":0.9,"zid":1.3},{"h":42.55,"xid":-0.9,"zid":0.9},{"h":42.65,"xid":-1.4,"zid":0.3},{"h":42.75,"xid":-1.5,"zid":0.6},{"h":42.85,"xid":2.3,"zid":1.0},{"h":42.95,"xid":1.6,"zid":0.5},
      {"h":43.05,"xid":1.5,"zid":0.8},{"h":43.15,"xid":0.4,"zid":1.2},{"h":43.25,"xid":0.6,"zid":1.4},{"h":43.35,"xid":-0.8,"zid":0.5},{"h":43.45,"xid":1.7,"zid":0.8},{"h":43.55,"xid":2.4,"zid":0.9},{"h":43.65,"xid":2.1,"zid":1.5},{"h":43.75,"xid":0.8,"zid":0.5},{"h":43.85,"xid":-0.9,"zid":1.0},{"h":43.95,"xid":1.4,"zid":0.9},
      {"h":44.05,"xid":1.8,"zid":1.0},{"h":44.15,"xid":0.2,"zid":0.4},{"h":44.25,"xid":1.3,"zid":0.5},{"h":44.35,"xid":0.6,"zid":1.3},{"h":44.45,"xid":-0.6,"zid":0.8},{"h":44.55,"xid":-1.8,"zid":0.6},{"h":44.65,"xid":-2.4,"zid":0.3},{"h":44.75,"xid":1.5,"zid":0.2},{"h":44.85,"xid":-0.2,"zid":0.4},{"h":44.95,"xid":-0.9,"zid":-1.6},
      {"h":45.05,"xid":-2.6,"zid":-1.2},{"h":45.15,"xid":-1.9,"zid":-0.9},{"h":45.25,"xid":-0.6,"zid":-0.8},{"h":45.35,"xid":1.2,"zid":-0.7},{"h":45.45,"xid":1.3,"zid":-1.4},{"h":45.55,"xid":-1.5,"zid":-1.1},{"h":45.65,"xid":-0.4,"zid":-1.3},{"h":45.75,"xid":0.9,"zid":-1.4},{"h":45.85,"xid":0.6,"zid":-0.1},{"h":45.95,"xid":2.0,"zid":0.3},
      {"h":46.05,"xid":0.7,"zid":0.6},{"h":46.15,"xid":-0.2,"zid":0.4},{"h":46.25,"xid":-1.4,"zid":0.1},{"h":46.35,"xid":-0.5,"zid":0.9},{"h":46.45,"xid":2.8,"zid":0.5},{"h":46.55,"xid":1.6,"zid":0.2},{"h":46.65,"xid":0.8,"zid":1.0},{"h":46.75,"xid":-0.4,"zid":0.4},{"h":46.85,"xid":-0.8,"zid":-1.1},{"h":46.95,"xid":-1.0,"zid":-0.7},
      {"h":47.05,"xid":0.8,"zid":-1.4},{"h":47.15,"xid":1.6,"zid":-1.5},{"h":47.25,"xid":-1.0,"zid":-0.7},{"h":47.35,"xid":-0.2,"zid":-0.9},{"h":47.45,"xid":0.7,"zid":-1.0},{"h":47.55,"xid":1.5,"zid":-0.4},{"h":47.65,"xid":1.3,"zid":-0.8},{"h":47.75,"xid":-0.1,"zid":-0.9},{"h":47.85,"xid":-1.4,"zid":-1.0},{"h":47.95,"xid":-0.5,"zid":-0.9},
      {"h":48.05,"xid":-2.3,"zid":-0.6},{"h":48.15,"xid":-1.3,"zid":-1.0},{"h":48.25,"xid":0.9,"zid":-1.1},{"h":48.35,"xid":0.1,"zid":-1.5},{"h":48.45,"xid":1.0,"zid":-1.0},{"h":48.55,"xid":-0.5,"zid":-2.0},{"h":48.65,"xid":1.0,"zid":-2.0},{"h":48.75,"xid":1.4,"zid":0.7},{"h":48.85,"xid":0.0,"zid":0.2},{"h":48.95,"xid":3.0,"zid":-0.6}
    ],
    "limX": [{"level": 36.4}, {"level": -36.4}],
    "limZ": [{"level": 1.05}, {"level": -1.05}]
  },
  "vconcat": [
    {
      "width": 938,
      "height": 300,
      "title": {"text": "Beam position in high- β section", "font": "Liberation Sans", "fontSize": 26.5, "fontWeight": "normal", "color": "black", "anchor": "middle", "frame": "group", "offset": 8},
      "layer": [
        {
          "data": {"name": "beam"},
          "mark": {"type": "line", "color": "#0000ff", "strokeWidth": 1.5, "clip": true},
          "encoding": {
            "x": {"field": "h", "type": "quantitative", "scale": {"domain": [0, 54], "nice": false, "zero": false},
                  "axis": {"orient": "bottom", "values": [0, 6, 12, 18, 24, 30, 36, 42, 48, 54], "labelExpr": "['06:00','12:00','18:00','00:00'][(datum.value/6)%4]", "grid": true, "title": null, "labelPadding": 22}},
            "y": {"field": "xid", "type": "quantitative", "scale": {"domain": [-40, 40], "nice": false, "zero": false},
                  "axis": {"orient": "left", "values": [-40, -20, 0, 20, 40], "labelExpr": "'' + datum.value", "grid": true, "labelPadding": 17, "title": "x\u00a0\u00a0\u00a0(μm)", "titleX": -63, "titleY": 195, "titleAlign": "left", "titleBaseline": "alphabetic", "titleAngle": 270}}
          }
        },
        {
          "data": {"name": "limX"},
          "mark": {"type": "rule", "color": "#ff0000", "strokeWidth": 2},
          "encoding": {
            "y": {"field": "level", "type": "quantitative", "axis": {"orient": "right", "values": [-40, -20, 0, 20, 40], "labels": false, "grid": false, "title": null}},
            "x": {"datum": 0, "type": "quantitative", "axis": {"orient": "top", "values": [0, 6, 12, 18, 24, 30, 36, 42, 48, 54], "labels": false, "grid": false, "title": null}},
            "x2": {"datum": 54}
          }
        },
        {
          "data": {"values": [{"h0": 32.0, "h1": 49.5, "lo": -34.0, "hi": -14.6}]},
          "mark": {"type": "rect", "color": "white", "opacity": 1},
          "encoding": {
            "x": {"field": "h0", "type": "quantitative", "axis": null},
            "x2": {"field": "h1"},
            "y": {"field": "lo", "type": "quantitative", "axis": null},
            "y2": {"field": "hi"}
          }
        },
        {
          "data": {"values": [{"h": 32.9, "v": -29.1, "label": "Rms: 4.1 μm"}]},
          "mark": {"type": "text", "font": "DejaVu Sans", "fontWeight": "bold", "fontSize": 36, "align": "left", "baseline": "alphabetic", "color": "black"},
          "encoding": {
            "x": {"field": "h", "type": "quantitative", "axis": null},
            "y": {"field": "v", "type": "quantitative", "axis": {"orient": "left", "labels": false, "ticks": false, "grid": false, "domain": false, "title": "id", "titleFontSize": 18, "titleX": -54, "titleY": 182, "titleAlign": "left", "titleBaseline": "alphabetic", "titleAngle": 270}},
            "text": {"field": "label"}
          }
        }
      ],
      "resolve": {"axis": {"x": "independent", "y": "independent"}}
    },
    {
      "width": 938,
      "height": 300,
      "layer": [
        {
          "data": {"name": "beam"},
          "mark": {"type": "line", "color": "#0000ff", "strokeWidth": 1.5, "clip": true},
          "encoding": {
            "x": {"field": "h", "type": "quantitative", "scale": {"domain": [0, 54], "nice": false, "zero": false},
                  "axis": {"orient": "bottom", "values": [0, 6, 12, 18, 24, 30, 36, 42, 48, 54], "labelExpr": "['06:00','12:00','18:00','00:00'][(datum.value/6)%4]", "grid": true, "title": "time", "titlePadding": 12, "labelPadding": 15}},
            "y": {"field": "zid", "type": "quantitative", "scale": {"domain": [-10, 10], "nice": false, "zero": false},
                  "axis": {"orient": "left", "values": [-10, -5, 0, 5, 10], "labelExpr": "'' + datum.value", "grid": true, "labelPadding": 17, "title": "z\u00a0\u00a0\u00a0(μm)", "titleX": -63, "titleY": 195, "titleAlign": "left", "titleBaseline": "alphabetic", "titleAngle": 270}}
          }
        },
        {
          "data": {"name": "limZ"},
          "mark": {"type": "rule", "color": "#ff0000", "strokeWidth": 2},
          "encoding": {
            "y": {"field": "level", "type": "quantitative", "axis": {"orient": "right", "values": [-10, -5, 0, 5, 10], "labels": false, "grid": false, "title": null}},
            "x": {"datum": 0, "type": "quantitative", "axis": {"orient": "top", "values": [0, 6, 12, 18, 24, 30, 36, 42, 48, 54], "labels": false, "grid": false, "title": null}},
            "x2": {"datum": 54}
          }
        },
        {
          "data": {"values": [{"h": 32.9, "v": 6.06, "label": "Rms: 1.1 µm"}]},
          "mark": {"type": "text", "font": "DejaVu Sans", "fontWeight": "bold", "fontSize": 36, "align": "left", "baseline": "alphabetic", "color": "black"},
          "encoding": {
            "x": {"field": "h", "type": "quantitative", "axis": null},
            "y": {"field": "v", "type": "quantitative", "axis": {"orient": "left", "labels": false, "ticks": false, "grid": false, "domain": false, "title": "id", "titleFontSize": 18, "titleX": -54, "titleY": 182, "titleAlign": "left", "titleBaseline": "alphabetic", "titleAngle": 270}},
            "text": {"field": "label"}
          }
        }
      ],
      "resolve": {"axis": {"x": "independent", "y": "independent"}}
    }
  ],
  "spacing": 110,
  "bounds": "flush"
}
